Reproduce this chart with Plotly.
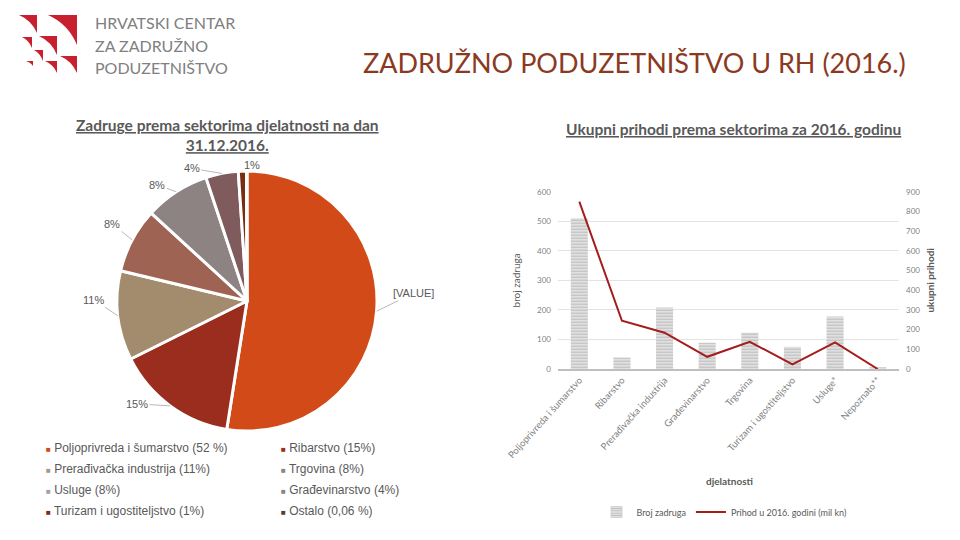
import math
import plotly.graph_objects as go

# ---------------- data ----------------
PIE_LABELS = [
    "Poljoprivreda i šumarstvo (52 %)",
    "Ribarstvo (15%)",
    "Prerađivačka industrija (11%)",
    "Trgovina (8%)",
    "Usluge (8%)",
    "Građevinarstvo (4%)",
    "Turizam i ugostiteljstvo (1%)",
    "Ostalo (0,06 %)",
]
PIE_VALUES = [52, 15, 11, 8, 8, 4, 1, 0.06]
PIE_TEXT = ["[VALUE]", "15%", "11%", "8%", "8%", "4%", "1%", ""]

SECTORS = [
    "Poljoprivreda i šumarstvo",
    "Ribarstvo",
    "Prerađivačka industrija",
    "Građevinarstvo",
    "Trgovina",
    "Turizam i ugostiteljstvo",
    "Usluge*",
    "Nepoznato**",
]
BROJ_ZADRUGA = [510, 39, 208, 89, 123, 75, 178, 6]
PRIHOD_2016 = [850, 245, 184, 62, 138, 24, 135, 0]

LEFT_TICKS = [0, 100, 200, 300, 400, 500, 600]
RIGHT_TICKS = [0, 100, 200, 300, 400, 500, 600, 700, 800, 900]

# ---------------- styles ----------------
W, H = 960, 540
PIE_COLORS = ["#D14A17", "#9B2D1F", "#A38B6D", "#9E6353",
              "#8E8383", "#7F5B5E", "#7B2D12", "#5E2A14"]
LEGEND_COLORS = ["#D14A17", "#9B2D1F", "#A39A8A", "#8E8383",
                 "#A8A0A0", "#8E8383", "#7B2D12", "#5E3A2A"]
LABEL_NUDGE = [(37, -18), (-33, -2), (-24, -16), (-20, -16),
               (-19, -7), (-30, -5), (10, -6), (0, 0)]
GREY = "#595959"
TICK_GREY = "#7f7f7f"


def px(x):
    return x / W


def py(y):
    return 1 - y / H


# pie geometry (pixels)
PCX, PCY, PR = 247, 301, 130

fig = go.Figure()

fig.add_trace(go.Pie(
    labels=PIE_LABELS,
    values=PIE_VALUES,
    sort=False,
    direction="clockwise",
    rotation=0,
    textinfo="none",
    marker=dict(colors=PIE_COLORS, line=dict(color="white", width=3)),
    domain=dict(x=[px(PCX - PR), px(PCX + PR)], y=[py(PCY + PR), py(PCY - PR)]),
    showlegend=False,
    hoverinfo="label+value",
))

fig.add_trace(go.Bar(
    x=SECTORS, y=BROJ_ZADRUGA, name="Broj zadruga",
    marker=dict(color="#e4e4e4",
                pattern=dict(shape="-", fgcolor="#8c8c8c", bgcolor="#ececec",
                             size=3, solidity=0.5),
                line=dict(width=0)),
    xaxis="x", yaxis="y",
))
fig.add_trace(go.Scatter(
    x=SECTORS, y=PRIHOD_2016, name="Prihod u 2016. godini (mil kn)",
    mode="lines", line=dict(color="#A51C1C", width=2),
    xaxis="x", yaxis="y2",
))

annotations = []
shapes = []

# pie labels with leader lines
total = sum(PIE_VALUES)
cum = 0
for v, t, (nx, ny) in zip(PIE_VALUES, PIE_TEXT, LABEL_NUDGE):
    theta = 2 * math.pi * (cum + v / 2) / total
    cum += v
    if not t:
        continue
    ex = PCX + PR * math.sin(theta)
    ey = PCY - PR * math.cos(theta)
    annotations.append(dict(
        x=px(ex), y=py(ey), xref="paper", yref="paper",
        text=t, showarrow=True, arrowhead=0, arrowwidth=0.8,
        arrowcolor="#a6a6a6", ax=nx, ay=ny, standoff=0,
        xanchor="auto", yanchor="auto",
        font=dict(family="Liberation Sans", size=11, color=GREY),
    ))

# pie legend (two columns)
for i, (lab, col) in enumerate(zip(PIE_LABELS, LEGEND_COLORS)):
    r, c = divmod(i, 2)
    annotations.append(dict(
        x=px(44 + c * 235), y=py(448 + r * 21),
        xanchor="left", yanchor="middle",
        text=f'<span style="color:{col};font-size:8px">■</span> {lab}',
        font=dict(family="Liberation Sans", size=12, color=GREY),
    ))

# titles & texts
SUB_FONT = dict(family="Lato", size=15.5, color=GREY)
annotations += [
    dict(x=px(634), y=py(62), text="ZADRUŽNO PODUZETNIŠTVO U RH (2016.)",
         font=dict(family="Lato", size=27, color="#8B3A1F")),
    dict(x=px(93), y=py(22), xanchor="left", text="HRVATSKI CENTAR",
         font=dict(family="Lato", size=16, color="#808080")),
    dict(x=px(93), y=py(45), xanchor="left", text="ZA ZADRUŽNO",
         font=dict(family="Lato", size=16, color="#808080")),
    dict(x=px(93), y=py(68), xanchor="left", text="PODUZETNIŠTVO",
         font=dict(family="Lato", size=16, color="#808080")),
    dict(x=px(227), y=py(135),
         text="<b><u>Zadruge prema sektorima djelatnosti na dan</u></b><br><b><u>31.12.2016.</u></b>",
         font=SUB_FONT),
    dict(x=px(733), y=py(129),
         text="<b><u>Ukupni prihodi prema sektorima za 2016. godinu</u></b>", font=SUB_FONT),
    dict(x=px(729), y=py(481), text="<b>djelatnosti</b>",
         font=dict(family="Lato", size=10, color=GREY)),
]
for a in annotations:
    a.setdefault("xref", "paper")
    a.setdefault("yref", "paper")
    a.setdefault("showarrow", False)
    a.setdefault("xanchor", "center")
    a.setdefault("yanchor", "middle")

# logo wedges (decorative)
WEDGES = [(19, 15, 37, 33), (48, 15, 77, 45), (22, 37, 32, 48), (39, 36, 57, 55),
          (34, 50, 43, 61), (60, 56, 77, 73), (26, 61, 33, 66), (45, 61, 57, 73)]
for x0, y0, x1, y1 in WEDGES:
    w, h = x1 - x0, y1 - y0
    cx, cy = x1 - 0.3 * w, y0 + 0.3 * h
    path = (f"M {px(x0)},{py(y0)} L {px(x1)},{py(y0)} L {px(x1)},{py(y1)} "
            f"Q {px(cx)},{py(cy)} {px(x0)},{py(y0)} Z")
    shapes.append(dict(type="path", path=path, xref="paper", yref="paper",
                       fillcolor="#C8202F", line=dict(width=0)))

fig.update_layout(
    width=W, height=H,
    margin=dict(l=0, r=0, t=0, b=0, autoexpand=False),
    paper_bgcolor="white", plot_bgcolor="white",
    bargap=0.6,
    font=dict(family="Lato", color=GREY),
    xaxis=dict(domain=[px(558), px(899)], tickangle=-48, automargin=False,
               tickfont=dict(family="Lato", size=9.5, color=TICK_GREY),
               showline=True, linecolor="#bfbfbf", linewidth=2,
               ticks="", showgrid=False),
    yaxis=dict(domain=[py(369), py(191.7)], range=[0, 600], tickvals=LEFT_TICKS,
               automargin=False, ticklabelstandoff=6,
               tickfont=dict(family="Lato", size=8, color=TICK_GREY),
               gridcolor="#e3e3e3", zeroline=False, ticks="",
               title=dict(text="broj zadruga", font=dict(size=10, color=GREY),
                          standoff=14)),
    yaxis2=dict(overlaying="y", side="right", range=[0, 900], tickvals=RIGHT_TICKS,
                automargin=False, ticklabelstandoff=6,
                tickfont=dict(family="Lato", size=8, color=TICK_GREY),
                showgrid=False, zeroline=False, ticks="",
                title=dict(text="<b>ukupni prihodi</b>", font=dict(size=10, color=GREY),
                           standoff=7)),
    legend=dict(orientation="h", x=px(724), xanchor="center", y=py(512),
                yanchor="middle", font=dict(family="Lato", size=9, color=GREY),
                bgcolor="rgba(0,0,0,0)"),
    annotations=annotations,
    shapes=shapes,
)

fig.write_html("out.html", config={"displayModeBar": False},
               post_script="document.body.style.margin='0';")
